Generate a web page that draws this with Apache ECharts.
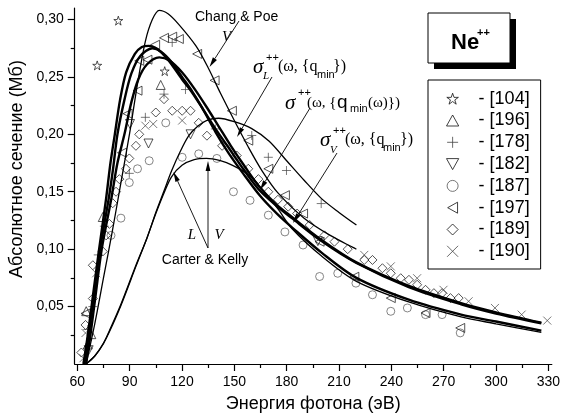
<!DOCTYPE html>
<html>
<head>
<meta charset="utf-8">
<script src="https://cdn.jsdelivr.net/npm/echarts@6/dist/echarts.min.js"></script>
<style>
  html, body { margin: 0; padding: 0; background: #fff; }
  #chart { width: 563px; height: 418px; }
</style>
</head>
<body>
<div id="chart"></div>
<script>
// theory curves, [energy eV, cross-section Mb]
const sigmaL = [[63.5,0],[66,0.025],[69,0.06],[72.5,0.10],[76.5,0.144],[79,0.175],[81.5,0.2],[84.5,0.23],[88,0.254],[93,0.27],[97,0.276],[101,0.277],[106,0.274],[112,0.265],[120,0.248],[126,0.236],[132,0.222],[140,0.203],[146,0.19],[155,0.170],[164,0.152],[174,0.138],[183,0.127],[200,0.107],[220,0.088],[250,0.067],[280,0.052],[300,0.044],[326,0.0355]];
const sigmaQw = [[64,0],[66.5,0.025],[69.5,0.06],[73,0.10],[78,0.144],[80.5,0.17],[83,0.2],[87,0.23],[91,0.253],[96,0.268],[103,0.275],[108,0.272],[114,0.263],[120,0.25],[126,0.237],[132,0.222],[140,0.2],[147,0.183],[155,0.166],[165,0.146],[175,0.13],[183,0.119],[200,0.097],[220,0.075],[250,0.056],[280,0.043],[300,0.037],[326,0.029]];
const sigmaV = [[65,0],[67.5,0.025],[70.5,0.06],[74,0.10],[79.5,0.144],[83,0.175],[87,0.2],[91,0.228],[95,0.248],[100,0.261],[107,0.267],[113,0.264],[120,0.254],[127,0.240],[134,0.224],[141,0.207],[148,0.19],[156,0.172],[164,0.155],[174,0.139],[183,0.128],[200,0.108],[220,0.0885],[250,0.068],[280,0.053],[300,0.045],[326,0.036]];
const changPoeV = [[65,0],[70,0.035],[75,0.075],[80,0.115],[85,0.158],[90,0.201],[94.5,0.244],[99,0.281],[103,0.300],[107,0.308],[112,0.305],[118,0.296],[128,0.277],[135,0.258],[142,0.236],[150,0.212],[158,0.189],[166,0.168],[175,0.149],[190,0.127],[205,0.112],[220,0.100]];
const carterL = [[65,0],[70,0.007],[75,0.018],[78.4,0.029],[85,0.052],[93.6,0.086],[100,0.11],[105,0.132],[110,0.152],[114,0.168],[119,0.185],[124,0.199],[129,0.207],[134,0.212],[141,0.214],[150,0.211],[160,0.205],[170,0.194],[180,0.177],[190,0.16],[200,0.144],[210,0.132],[220,0.121]];
const carterV = [[65,0],[70,0.007],[75,0.018],[78.4,0.028],[85,0.051],[93.6,0.085],[100,0.11],[105,0.131],[110,0.150],[114,0.163],[120,0.173],[127,0.178],[134,0.179],[142,0.177],[149,0.173],[158,0.165],[166,0.152],[175,0.135],[183,0.118],[200,0.094],[220,0.072],[250,0.054],[280,0.041],[300,0.035],[326,0.0275]];

// experimental points
const ref104 = [[71.4,0.260],[83.5,0.299],[110.1,0.255]];
const ref196 = [[65.1,0.046],[66,0.017],[68,0.026],[74.6,0.128],[107.8,0.243]];
const ref178 = [[66,0.03],[68.9,0.050],[72,0.095],[75.5,0.12],[89.8,0.166],[99,0.2148],[109.7,0.235],[114.4,0.280],[122,0.239],[139.1,0.2047],[160,0.199],[169.5,0.180],[179.9,0.1685],[199.8,0.1397]];
const ref182 = [[66.5,0.012],[90.2,0.209],[100.8,0.192],[124.9,0.2],[197.9,0.107]];
const ref187 = [[79.3,0.112],[85,0.127],[89.8,0.158],[94.5,0.170],[101.2,0.177],[110.7,0.210],[120.1,0.180],[129.6,0.183],[140,0.179],[149.5,0.150],[159,0.1425],[169.5,0.1296],[179,0.115],[189.4,0.1036],[198.9,0.0762],[209.3,0.079],[219.7,0.0704],[229.2,0.0603],[239.7,0.0459],[249.2,0.0488],[259.6,0.043],[269.1,0.043],[279.5,0.0271]];
const ref197 = [[64.7,0.044],[85.6,0.184],[88.8,0.218],[94.5,0.238],[95.5,0.264],[100.2,0.265],[104.6,0.278],[109.7,0.284],[114.4,0.285],[118.2,0.283],[128.7,0.270],[138.7,0.247],[148.6,0.2205],[158,0.1945],[169.5,0.170],[179,0.147],[189.4,0.131],[198.9,0.1065],[218.8,0.076],[239.7,0.0574],[259.6,0.0444],[279.5,0.0314]];
const ref189 = [[62.3,0.010],[64.7,0.034],[68.9,0.057],[68.9,0.086],[74.6,0.098],[76.5,0.112],[78.4,0.122],[80.3,0.140],[82.2,0.150],[84.1,0.161],[87.9,0.170],[89.8,0.179],[93.6,0.190],[95.5,0.200],[105,0.219],[109.7,0.2306],[114.4,0.2205],[120.1,0.2205],[124.9,0.2205],[129.6,0.210],[134.3,0.1988],[143,0.19],[151.4,0.1815],[158,0.170],[163.8,0.161],[169.5,0.150],[175,0.143],[180.9,0.137],[186,0.131],[193.2,0.121],[201.7,0.112],[207.4,0.1065],[215,0.100],[224.5,0.0906],[229.2,0.0906],[234.9,0.0834],[239.7,0.079],[245.4,0.0747],[250.1,0.0733],[254.8,0.069],[259.6,0.0646],[264.4,0.0617],[269.1,0.0617],[273.9,0.0574],[278.6,0.0574]];
const ref190 = [[63.5,0.005],[64.7,0.027],[70.8,0.079],[99,0.2075],[103.5,0.209],[120.1,0.212],[224.5,0.095],[239.7,0.085],[254.8,0.0747],[269.9,0.0646],[284.3,0.0546],[299.4,0.0488],[314.7,0.043],[329.4,0.0378]];

const legendNames = ['[104]', '[196]', '[178]', '[182]', '[187]', '[197]', '[189]', '[190]'];
const xMajorTicks = [60, 90, 120, 150, 180, 210, 240, 270, 300, 330];
const xMinorTicks = [75, 105, 135, 165, 195, 225, 255, 285, 315];
const yMajorTicks = [0.05, 0.10, 0.15, 0.20, 0.25, 0.30];
const yTickLabels = ['0,05', '0,10', '0,15', '0,20', '0,25', '0,30'];
const yMinorTicks = [0.025, 0.075, 0.125, 0.175, 0.225, 0.275];

const SANS = '"Liberation Sans", Arial, sans-serif';
const SERIF = '"Liberation Serif", "Times New Roman", serif';

const sym = {
  star: 'path://M5,0L6.2,3.6L10,3.6L6.9,5.8L8.1,9.5L5,7.2L1.9,9.5L3.1,5.8L0,3.6L3.8,3.6Z',
  triUp: 'path://M5,0L10,9L0,9Z',
  plus: 'path://M5,0L5,10M0,5L10,5',
  triDown: 'path://M0,0L10,0L5,9Z',
  circle: 'path://M0,5A5,5,0,1,1,10,5A5,5,0,1,1,0,5Z',
  triLeft: 'path://M0,5L9,0L9,10Z',
  diamond: 'path://M5,0L10,5L5,10L0,5Z',
  cross: 'path://M0,0L10,10M10,0L0,10'
};

const points = [ref104, ref196, ref178, ref182, ref187, ref197, ref189, ref190];
const symbols = [sym.star, sym.triUp, sym.plus, sym.triDown, sym.circle, sym.triLeft, sym.diamond, sym.cross];
const sizes = [9, 9, 9, 9, 8, 9, 9, 8];
const colors = ['#111', '#111', '#444', '#111', '#555', '#111', '#111', '#444'];

const chart = echarts.init(document.getElementById('chart'));

function curve(name, data, width) {
  return {
    name: name, type: 'line', data: data, smooth: 0.3, showSymbol: false, z: 4,
    lineStyle: { color: '#000', width: width }
  };
}

function txt(x, y, text, font, align) {
  return {
    type: 'text', x: x, y: y, z: 100,
    style: { text: text, font: font, fill: '#000', align: align || 'left', verticalAlign: 'middle' }
  };
}

function arrow(x1, y1, x2, y2) {
  const a = Math.atan2(y2 - y1, x2 - x1);
  const len = 10, half = 2.4;
  const bx = x2 - len * Math.cos(a), by = y2 - len * Math.sin(a);
  return [
    { type: 'line', z: 100, shape: { x1: x1, y1: y1, x2: bx, y2: by }, style: { stroke: '#000', lineWidth: 0.9 } },
    { type: 'polygon', z: 100, shape: { points: [[x2, y2],
      [bx + half * Math.sin(a), by - half * Math.cos(a)],
      [bx - half * Math.sin(a), by + half * Math.cos(a)]] }, style: { fill: '#000' } }
  ];
}

const scatterSeries = points.map((d, i) => ({
  name: legendNames[i], type: 'scatter', data: d, z: 2,
  symbol: symbols[i], symbolSize: sizes[i],
  itemStyle: { color: 'rgba(0,0,0,0)', borderColor: colors[i], borderWidth: 0.9 }
}));

const yName = txt(17, 169, 'Абсолютное сечение (Мб)', '18px ' + SANS, 'center');
yName.rotation = Math.PI / 2;

const graphics = [].concat(
  [yName],
  // Ne++ box
  [{ type: 'rect', z: 100, shape: { x: 434, y: 19, width: 82, height: 50 }, style: { fill: '#000' } },
   { type: 'rect', z: 101, shape: { x: 428, y: 13, width: 82, height: 50 }, style: { fill: '#fff', stroke: '#000', lineWidth: 1 } },
   Object.assign(txt(451, 43, 'Ne', 'bold 22px ' + SANS), { z: 102 }),
   Object.assign(txt(477, 33, '++', 'bold 11px ' + SANS), { z: 102 })],
  // Chang & Poe
  [txt(195, 17, 'Chang & Poe', '14px ' + SANS), txt(222, 37, 'V', 'italic 15px ' + SERIF)],
  arrow(239, 21, 209.5, 67),
  // sigma_L
  [txt(253, 67, 'σ', 'italic 21px ' + SERIF), txt(266, 58, '++', '11px ' + SANS), txt(263, 76, 'L', 'italic 11px ' + SERIF),
   txt(278, 67, '(ω, {q', '16px ' + SERIF), txt(317, 75, 'min', '11px ' + SANS), txt(333, 67, '})', '16px ' + SERIF)],
  arrow(272, 77, 237, 137),
  // sigma(q_min(omega))
  [txt(285, 103, 'σ', 'italic 21px ' + SERIF), txt(298, 93, '++', '11px ' + SANS),
   txt(307, 103, '(ω, {', '15px ' + SERIF), txt(337, 103, 'q', '19px ' + SANS), txt(350, 109, 'min', '11px ' + SANS),
   txt(368, 103, '(ω)})', '15px ' + SERIF)],
  arrow(310, 108, 260, 190),
  // sigma_V
  [txt(320, 140, 'σ', 'italic 21px ' + SERIF), txt(333, 131, '++', '11px ' + SANS), txt(330, 150, 'V', 'italic 11px ' + SERIF),
   txt(345, 140, '(ω, {q', '16px ' + SERIF), txt(383, 148, 'min', '11px ' + SANS), txt(400, 140, '})', '16px ' + SERIF)],
  arrow(337, 153, 293, 223),
  // Carter & Kelly
  [txt(192, 235, 'L', 'italic 15px ' + SERIF, 'center'), txt(219, 235, 'V', 'italic 15px ' + SERIF, 'center'),
   txt(205, 260, 'Carter & Kelly', '14px ' + SANS, 'center')],
  arrow(208, 248, 173.5, 172),
  arrow(208, 248, 208, 161)
);

chart.setOption({
  animation: false,
  grid: { left: 74.7, right: 7.5, top: 8, bottom: 52, containLabel: false },
  legend: {
    orient: 'vertical', left: 428, top: 80,
    data: legendNames.map((n, i) => ({ name: n, icon: symbols[i] })),
    formatter: '- {name}',
    itemWidth: 42, itemHeight: 11, itemGap: 3.8,
    padding: [9.7, 11, 8.7, 18],
    borderColor: '#000', borderWidth: 1,
    itemStyle: { borderWidth: 1 },
    textStyle: { fontSize: 18, fontFamily: SANS, color: '#000' }
  },
  xAxis: [{
    type: 'value', min: 58.5, max: 332,
    name: 'Энергия фотона (эВ)', nameLocation: 'middle', nameGap: 31,
    nameTextStyle: { fontSize: 18, fontFamily: SANS, color: '#000' },
    axisLine: { lineStyle: { color: '#000', width: 1.2 } },
    axisTick: { customValues: xMajorTicks, length: 7, lineStyle: { color: '#000', width: 1.2 } },
    axisLabel: { customValues: xMajorTicks, fontSize: 14, fontFamily: SANS, color: '#000', margin: 11 },
    splitLine: { show: false }
  }, {
    type: 'value', min: 58.5, max: 332, position: 'bottom',
    axisLine: { show: false },
    axisTick: { customValues: xMinorTicks, length: 4, lineStyle: { color: '#000', width: 1.2 } },
    axisLabel: { show: false },
    splitLine: { show: false }
  }],
  yAxis: [{
    type: 'value', min: 0, max: 0.31,
    axisLine: { show: true, lineStyle: { color: '#000', width: 1.2 } },
    axisTick: { show: true, customValues: yMajorTicks, length: 7, lineStyle: { color: '#000', width: 1.2 } },
    axisLabel: {
      customValues: yMajorTicks, fontSize: 14, fontFamily: SANS, color: '#000', margin: 11,
      formatter: v => yTickLabels[yMajorTicks.findIndex(t => Math.abs(t - v) < 1e-6)] || ''
    },
    splitLine: { show: false }
  }, {
    type: 'value', min: 0, max: 0.31, position: 'left',
    axisLine: { show: false },
    axisTick: { show: true, customValues: yMinorTicks, length: 4, lineStyle: { color: '#000', width: 1.2 } },
    axisLabel: { show: false },
    splitLine: { show: false }
  }],
  series: scatterSeries.concat([
    curve('Chang & Poe V', changPoeV, 1.3),
    curve('Carter & Kelly L', carterL, 1.3),
    curve('Carter & Kelly V', carterV, 1.3),
    curve('sigma L', sigmaL, 2.4),
    curve('sigma q(w)', sigmaQw, 2.4),
    curve('sigma V', sigmaV, 2.4)
  ]),
  graphic: graphics
});
</script>
</body>
</html>
